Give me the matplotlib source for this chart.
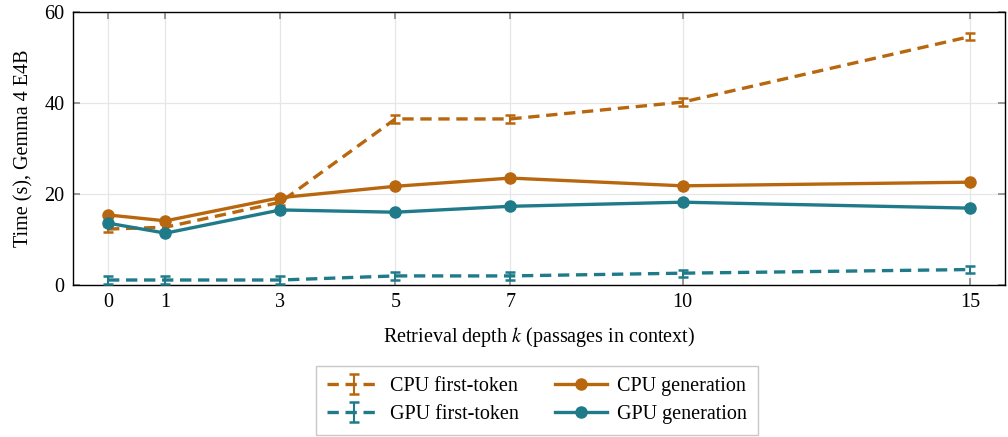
import matplotlib
matplotlib.use("Agg")
import matplotlib.pyplot as plt
import numpy as np

plt.rcParams['font.family'] = ['Liberation Serif', 'DejaVu Serif']
plt.rcParams['mathtext.fontset'] = 'stix'

k = [0, 1, 3, 5, 7, 10, 15]
cpu_first = [12.3, 12.7, 18.2, 36.5, 36.5, 40.2, 54.6]
cpu_first_err = [0.7, 0.7, 0.7, 0.8, 0.8, 0.8, 0.8]
gpu_first = [1.1, 1.1, 1.1, 2.0, 2.0, 2.6, 3.4]
gpu_first_err = [0.8, 0.8, 0.8, 0.8, 0.8, 0.8, 0.8]
cpu_gen = [15.4, 14.1, 19.2, 21.7, 23.5, 21.8, 22.6]
gpu_gen = [13.6, 11.4, 16.5, 16.0, 17.3, 18.2, 16.9]

orange = '#B8670E'
teal = '#1F7A8A'

fig = plt.figure(figsize=(10.08, 4.37), dpi=100)
ax = fig.add_axes([0.0724, 0.3478, 0.9246, 0.6247])

lw = 2.4
dash = (0, (3.4, 2.0))
h_cf = ax.errorbar(k, cpu_first, yerr=cpu_first_err, color=orange, lw=lw, ls=dash,
                   capsize=3.5, capthick=1.8, elinewidth=1.5, zorder=3)
h_cg, = ax.plot(k, cpu_gen, color=orange, lw=lw, marker='o', ms=8, zorder=4)
h_gf = ax.errorbar(k, gpu_first, yerr=gpu_first_err, color=teal, lw=lw, ls=dash,
                   capsize=3.5, capthick=1.8, elinewidth=1.5, zorder=3)
h_gg, = ax.plot(k, gpu_gen, color=teal, lw=lw, marker='o', ms=8, zorder=4)

ax.set_xlim(-0.61, 15.61)
ax.set_ylim(0, 60)
ax.set_xticks(k)
ax.set_yticks([0, 20, 40, 60])
ax.grid(True, color='#e6e6e6', lw=0.9)
ax.set_axisbelow(True)
ax.tick_params(direction='in', length=5, color='#888888', top=True, right=True,
               labelsize=14.5, width=1.2, pad=6)
for s in ax.spines.values():
    s.set_linewidth(1.0)
ax.set_xlabel('Retrieval depth $k$ (passages in context)', fontsize=14.5, labelpad=9)
ax.set_ylabel('Time (s), Gemma 4 E4B', fontsize=14.5, labelpad=8)

leg = fig.legend([h_cf, h_gf, h_cg, h_gg],
                 ['CPU first-token', 'GPU first-token', 'CPU generation', 'GPU generation'],
                 ncol=2, loc='lower center', bbox_to_anchor=(0.533, 0.0),
                 fontsize=14.5, frameon=True, fancybox=False, edgecolor='#bbbbbb',
                 handlelength=2.6, columnspacing=1.8, borderpad=0.55, labelspacing=0.45,
                 handletextpad=0.5, borderaxespad=0.1)
leg.get_frame().set_linewidth(1.0)

fig.savefig('out.png', dpi=100)
